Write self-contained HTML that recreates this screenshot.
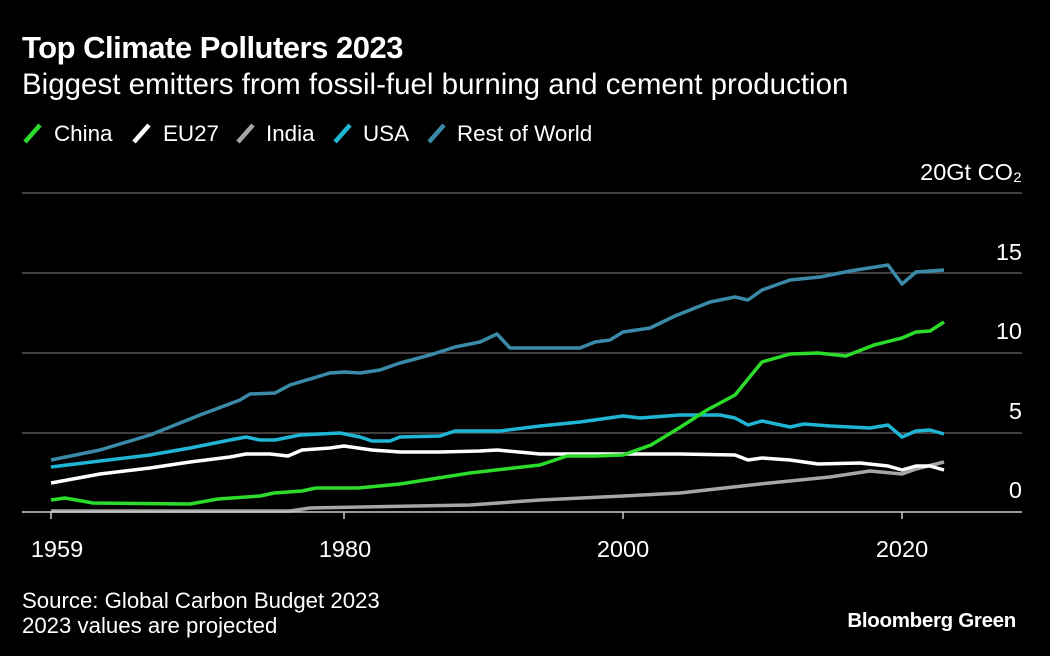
<!DOCTYPE html>
<html><head><meta charset="utf-8"><style>
html,body{margin:0;padding:0;background:#000;}
svg{display:block;font-family:"Liberation Sans",Arial,sans-serif;}
</style></head><body>
<svg width="1050" height="656" viewBox="0 0 1050 656" xmlns="http://www.w3.org/2000/svg">
<rect width="1050" height="656" fill="#000"/>
<text x="22" y="58" fill="#fff" font-size="31" font-weight="bold" letter-spacing="-0.5">Top Climate Polluters 2023</text>
<text x="22" y="94" fill="#fff" font-size="29.5">Biggest emitters from fossil-fuel burning and cement production</text>
<g font-size="22.4" fill="#fff">
<line x1="25" y1="142" x2="40" y2="125" stroke="#2bdc2b" stroke-width="4.5"/><text x="54" y="141">China</text>
<line x1="134" y1="142" x2="149" y2="125" stroke="#fff" stroke-width="4.5"/><text x="163" y="141">EU27</text>
<line x1="238" y1="142" x2="253" y2="125" stroke="#a6a6a6" stroke-width="4.5"/><text x="266" y="141">India</text>
<line x1="335" y1="142" x2="350" y2="125" stroke="#1fb5d4" stroke-width="4.5"/><text x="363" y="141">USA</text>
<line x1="429" y1="142" x2="444" y2="125" stroke="#3a8aa8" stroke-width="4.5"/><text x="457" y="141">Rest of World</text>
</g>
<g stroke="#555" stroke-width="1.5">
<line x1="22" y1="193" x2="1022" y2="193"/>
<line x1="22" y1="273" x2="1022" y2="273"/>
<line x1="22" y1="353" x2="1022" y2="353"/>
<line x1="22" y1="433" x2="1022" y2="433"/>
</g>
<g fill="#fff" font-size="23.5" text-anchor="end">
<text x="1022" y="180">20Gt CO₂</text>
<text x="1022" y="260">15</text>
<text x="1022" y="339">10</text>
<text x="1022" y="419">5</text>
<text x="1022" y="498">0</text>
</g>
<g fill="none" stroke-width="3.5" stroke-linejoin="round">
<polyline stroke="#3a8aa8" points="51,460 100,450 150,435 200,415 240,400 250,394 275,393 290,385 330,373 345,372 360,373 380,370 400,363 430,355 455,347 480,342 497,334 510,348 580,348 595,342 610,340 623,332 650,328 675,316 710,302 735,297 748,300 762,290 790,280 820,277 850,271 888,265 902,284 916,272 944,270"/>
<polyline stroke="#1fb5d4" points="51,467 100,461 150,455 190,448 230,440 246,437 260,440 275,440 300,435 340,433 360,437 372,441 390,441 400,437 440,436 455,431 500,431 540,426 580,422 623,416 640,418 680,415 720,415 735,418 748,425 762,421 790,427 804,424 830,426 870,428 888,425 902,437 916,431 930,430 944,434"/>
<polyline stroke="#a6a6a6" points="51,511 290,511 310,508 470,505 540,500 623,496 680,493 760,484 830,477 870,471 902,474 916,469 944,462"/>
<polyline stroke="#fff" points="51,483 100,474 150,468 190,462 230,457 246,454 270,454 288,456 302,450 330,448 344,446 358,448 372,450 400,452 440,452 480,451 497,450 540,454 600,454 680,454 735,455 748,460 762,458 776,459 790,460 818,464 860,463 888,466 902,470 916,466 930,466 944,470"/>
<polyline stroke="#2bdc2b" points="51,500 65,498 93,503 190,504 218,499 260,496 274,493 302,491 316,488 358,488 400,484 470,473 540,465 567,456 595,456 623,455 651,445 679,428 707,410 735,395 762,362 790,354 818,353 846,356 874,345 902,338 916,332 930,331 944,322"/>
</g>
<line x1="22" y1="512" x2="1022" y2="512" stroke="#ccc" stroke-width="1.5"/>
<g stroke="#ccc" stroke-width="1.5">
<line x1="51" y1="512" x2="51" y2="519"/><line x1="344" y1="512" x2="344" y2="519"/>
<line x1="623" y1="512" x2="623" y2="519"/><line x1="902" y1="512" x2="902" y2="519"/>
</g>
<g fill="#fff" font-size="23.5" text-anchor="middle">
<text x="57" y="557">1959</text><text x="345" y="557">1980</text>
<text x="623" y="557">2000</text><text x="902" y="557">2020</text>
</g>
<text x="22" y="608" fill="#fff" font-size="22.2">Source: Global Carbon Budget 2023</text>
<text x="22" y="633" fill="#fff" font-size="22.2">2023 values are projected</text>
<text x="1016" y="627" fill="#fff" font-size="20.5" font-weight="bold" text-anchor="end" letter-spacing="-0.3">Bloomberg Green</text>
</svg>
</body></html>
